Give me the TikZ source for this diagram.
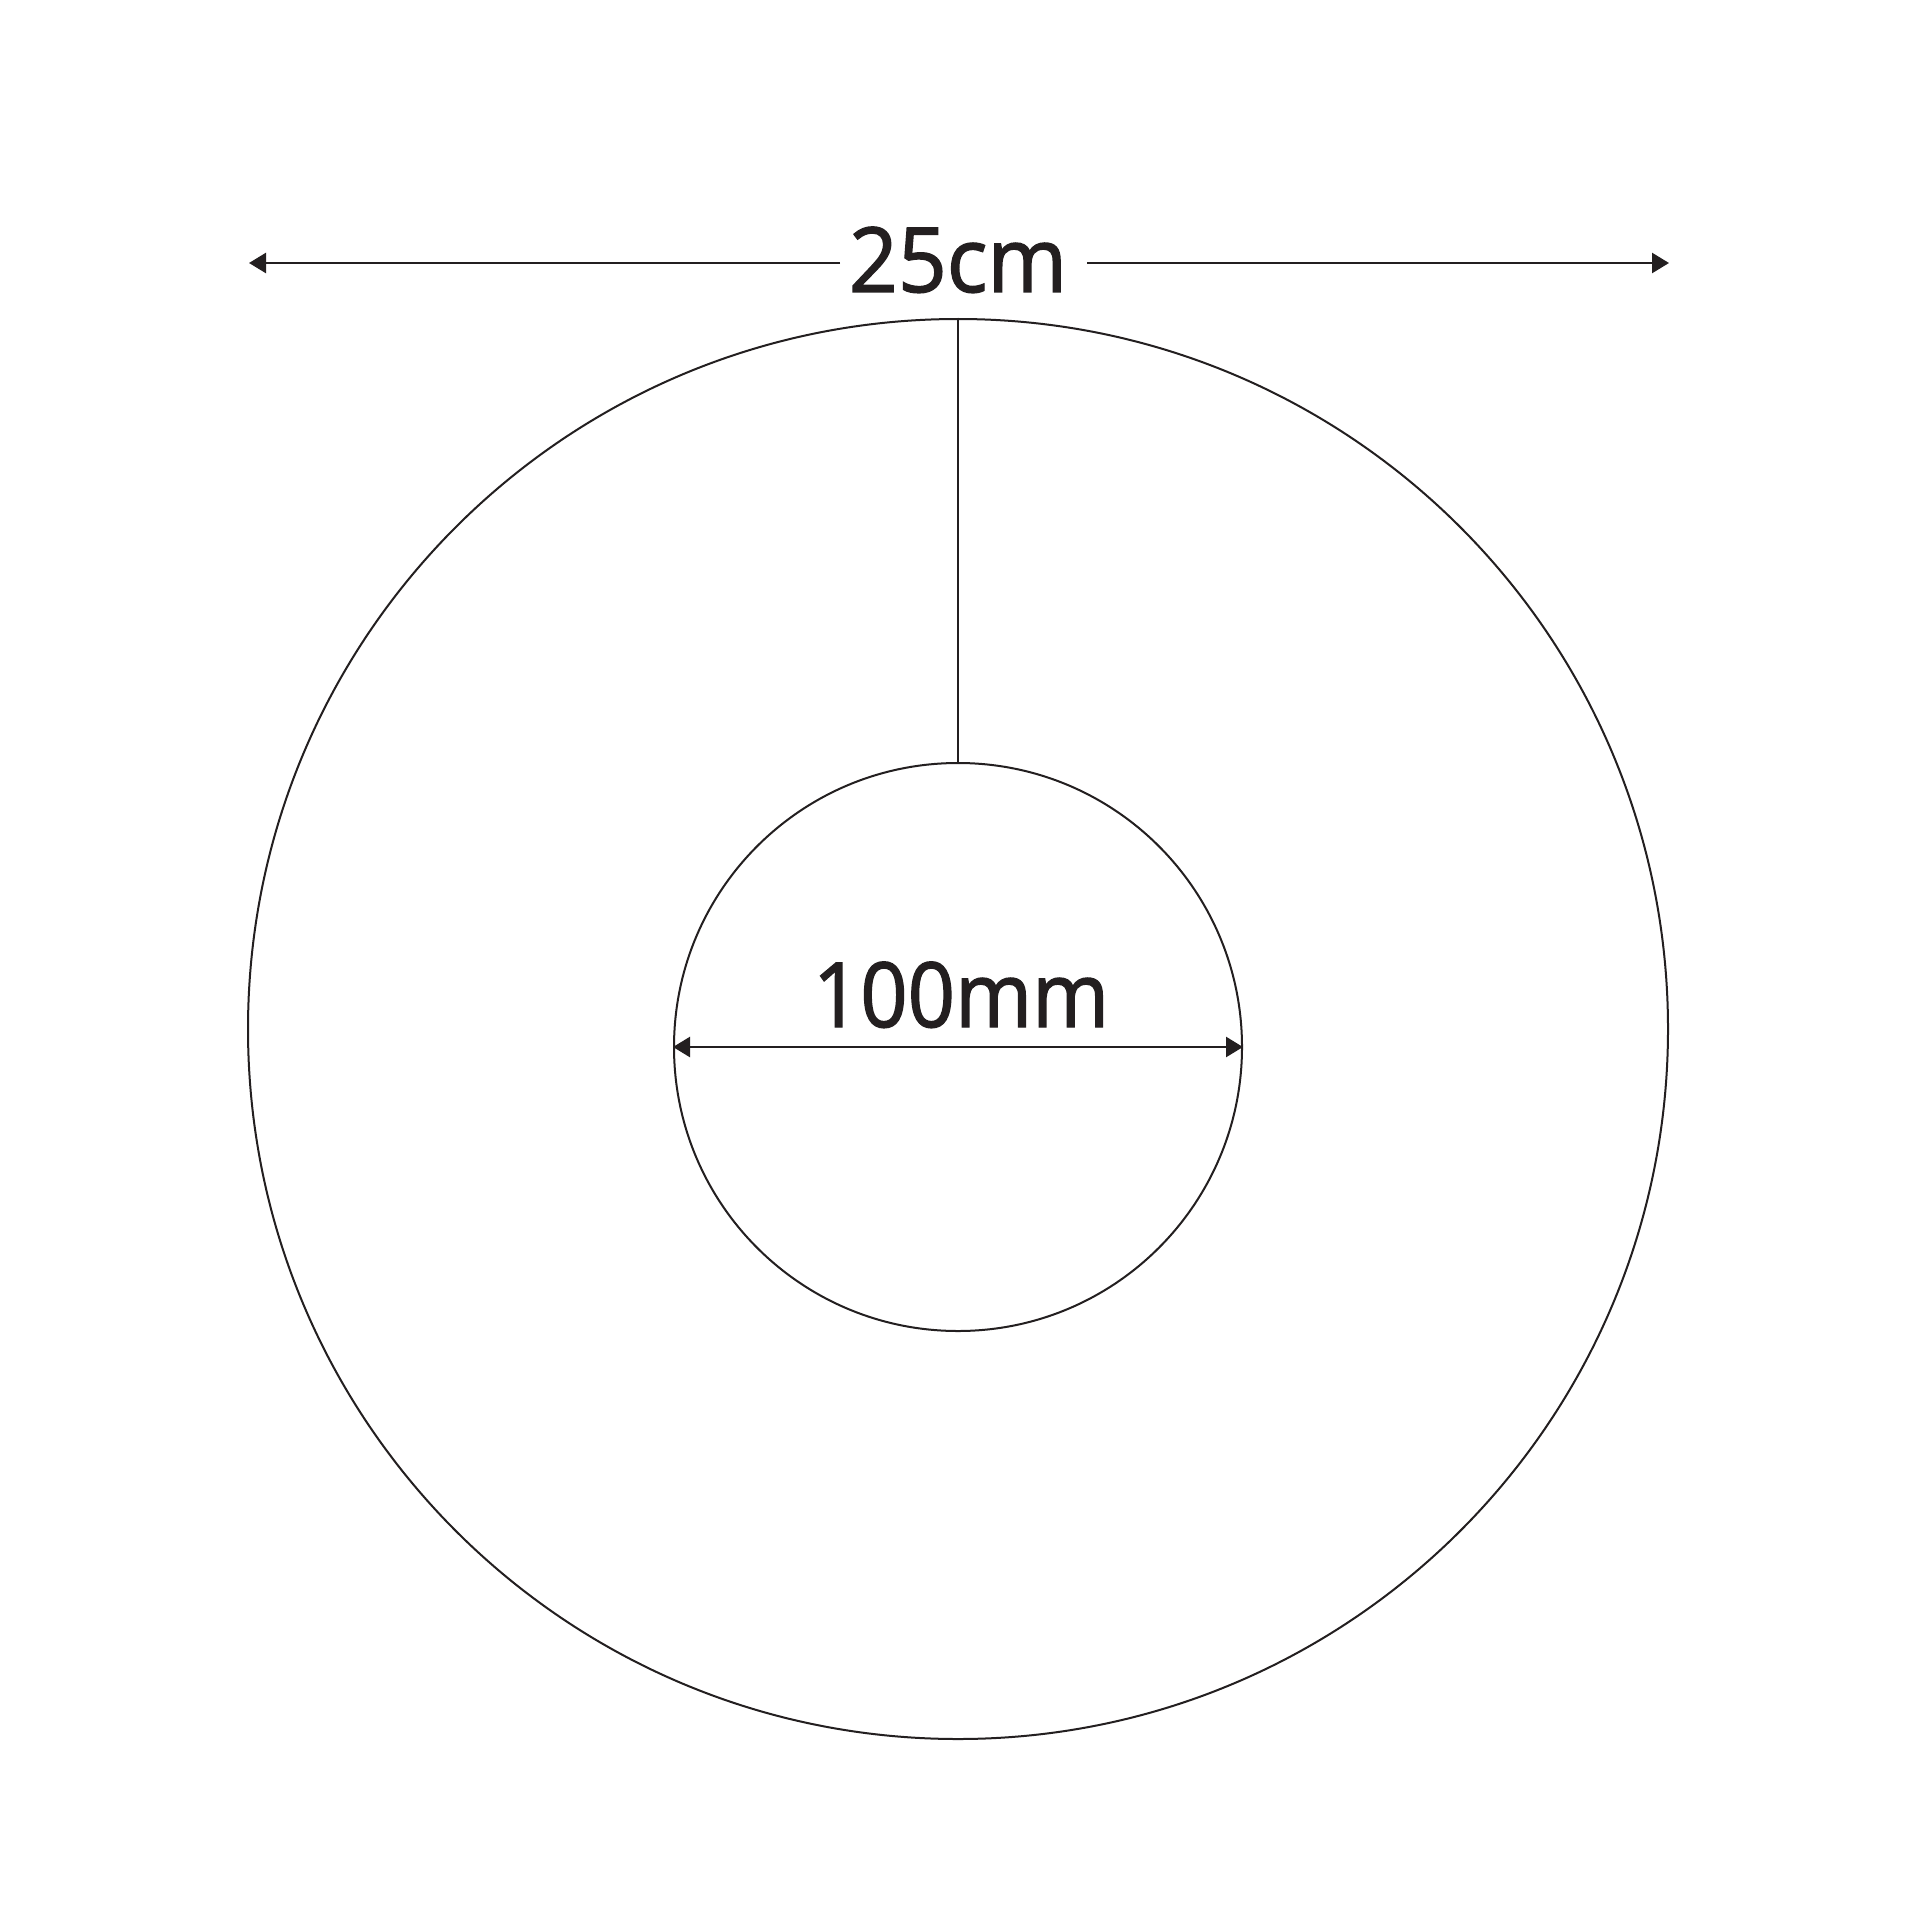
\documentclass[tikz,border=0pt]{standalone}
\usepackage{fontspec}
\setmainfont{Open Sans}
\newfontfamily\dimfont{Open Sans}[FakeBold=1.6]
\usetikzlibrary{arrows.meta}
\definecolor{ink}{HTML}{231F20}
\begin{document}
\begin{tikzpicture}[x=0.5pt,y=-0.5pt,
  ring/.style={circle,draw=ink,line width=1pt,inner sep=0pt},
  dimline/.style={draw=ink,line width=1.25pt},
  dimarrow/.style={dimline,-{Triangle[length=8.5pt,width=10pt]}},
  dimtext/.style={text=ink,inner sep=0pt,anchor=base,font=\dimfont\fontsize{45pt}{50pt}\selectfont}]
\useasboundingbox[fill=white] (0,0) rectangle (1920,1920);
\node[ring,minimum size=710pt] (outer) at (958,1029) {};
\node[ring,minimum size=284pt] (inner) at (958,1047) {};
\draw[draw=ink,line width=1.1pt] (outer.north) -- (inner.north);
\draw[dimarrow,{Triangle[length=8.5pt,width=10pt]}-{Triangle[length=8.5pt,width=10pt]}] (inner.west) -- (inner.east);
\node[dimtext] (t100) at (961,1027) {\scalebox{0.92}[1]{100mm}};
\node[dimtext] (t25) at (958,292) {\scalebox{0.95}[1]{25cm}};
\coordinate (la) at (249,263);
\coordinate (lb) at (840,263);
\coordinate (ra) at (1087,263);
\coordinate (rb) at (1669,263);
\draw[dimarrow] (lb) -- (la);
\draw[dimarrow] (ra) -- (rb);
\end{tikzpicture}
\end{document}
